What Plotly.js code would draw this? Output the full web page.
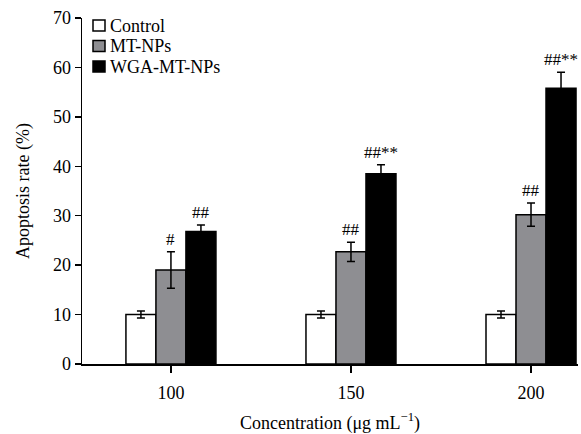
<!DOCTYPE html>
<html>
<head>
<meta charset="utf-8">
<script src="https://cdn.plot.ly/plotly-3.0.1.min.js"></script>
<style>html,body{margin:0;padding:0;background:#fff;}#chart{width:581px;height:434px;}</style>
</head>
<body>
<div id="chart"></div>
<script>
const categories = ["100", "150", "200"];
const seriesNames = ["Control", "MT-NPs", "WGA-MT-NPs"];
const controlValues = [10.0, 10.0, 10.0];
const controlErrors = [0.7, 0.7, 0.7];
const mtValues = [19.0, 22.7, 30.2];
const mtErrors = [3.7, 1.95, 2.35];
const wgaValues = [26.8, 38.5, 55.8];
const wgaErrors = [1.3, 1.8, 3.2];
const mtMarks = ["#", "##", "##"];
const wgaMarks = ["##", "##**", "##**"];
const yTicks = [0, 10, 20, 30, 40, 50, 60, 70];

const colors = ["#ffffff", "#8e8e92", "#000000"];
const allValues = [controlValues, mtValues, wgaValues];
const allErrors = [controlErrors, mtErrors, wgaErrors];
const allMarks = [null, mtMarks, wgaMarks];
const bargap = 0.5;
const barW = (1 - bargap) / 3;
const FONT = "Liberation Serif, Times New Roman, serif";

const W = 581, H = 434;
const M = {l: 82, r: 3, t: 18, b: 70};
const plotW = W - M.l - M.r, plotH = H - M.t - M.b;
const px2x = p => (p - M.l) / plotW;
const px2y = p => (H - M.b - p) / plotH;

const traces = seriesNames.map((name, i) => ({
  type: "bar",
  name: name,
  x: categories,
  y: allValues[i],
  marker: {color: colors[i], line: {color: "#000", width: 1.5}},
  error_y: {type: "data", array: allErrors[i], visible: true, color: "#000", thickness: 1.5, width: 4},
  hoverinfo: "skip",
  showlegend: false
}));

const annotations = [];
allMarks.forEach((marks, i) => {
  if (!marks) return;
  marks.forEach((m, k) => {
    annotations.push({
      xref: "x", yref: "y",
      x: k + (i - 1) * barW,
      y: allValues[i][k] + allErrors[i][k],
      text: m, showarrow: false,
      yanchor: "bottom", xanchor: "center", yshift: 1,
      font: {family: FONT, size: 17, color: "#000"}
    });
  });
});

// custom legend (compact row spacing like the reference)
const shapes = [];
seriesNames.forEach((name, i) => {
  const cy = 25.5 + i * 20.5;
  shapes.push({
    type: "rect", xref: "paper", yref: "paper",
    x0: px2x(93), x1: px2x(105), y0: px2y(cy + 5.5), y1: px2y(cy - 5.5),
    fillcolor: colors[i], line: {color: "#000", width: 1.5}
  });
  annotations.push({
    xref: "paper", yref: "paper", x: px2x(108), y: px2y(cy),
    xanchor: "left", yanchor: "middle", showarrow: false, text: name,
    font: {family: FONT, size: 18, color: "#000"}
  });
});

const layout = {
  width: W, height: H,
  margin: {l: M.l, r: M.r, t: M.t, b: M.b, pad: 0},
  paper_bgcolor: "#fff", plot_bgcolor: "#fff",
  font: {family: FONT, size: 18, color: "#000"},
  barmode: "group", bargap: bargap, bargroupgap: 0,
  showlegend: false,
  xaxis: {
    type: "category", range: [-0.494, 2.261],
    showline: true, linecolor: "#000", linewidth: 1.5,
    ticks: "outside", ticklen: 7, tickwidth: 1.5, tickcolor: "#000",
    ticklabelstandoff: 5,
    showgrid: false, zeroline: false,
    tickfont: {family: FONT, size: 18},
    title: {text: "Concentration (μg mL<sup>−1</sup>)", font: {family: FONT, size: 18}, standoff: 18}
  },
  yaxis: {
    range: [0, 70], tickvals: yTicks, ticktext: yTicks.map(String),
    showline: true, linecolor: "#000", linewidth: 1.5,
    ticks: "outside", ticklen: 6, tickwidth: 1.5, tickcolor: "#000",
    showgrid: false, zeroline: false,
    tickfont: {family: FONT, size: 18},
    title: {text: "Apoptosis rate (%)", font: {family: FONT, size: 18}, standoff: 18}
  },
  shapes: shapes,
  annotations: annotations
};

Plotly.newPlot("chart", traces, layout, {displayModeBar: false, staticPlot: true});
</script>
</body>
</html>
